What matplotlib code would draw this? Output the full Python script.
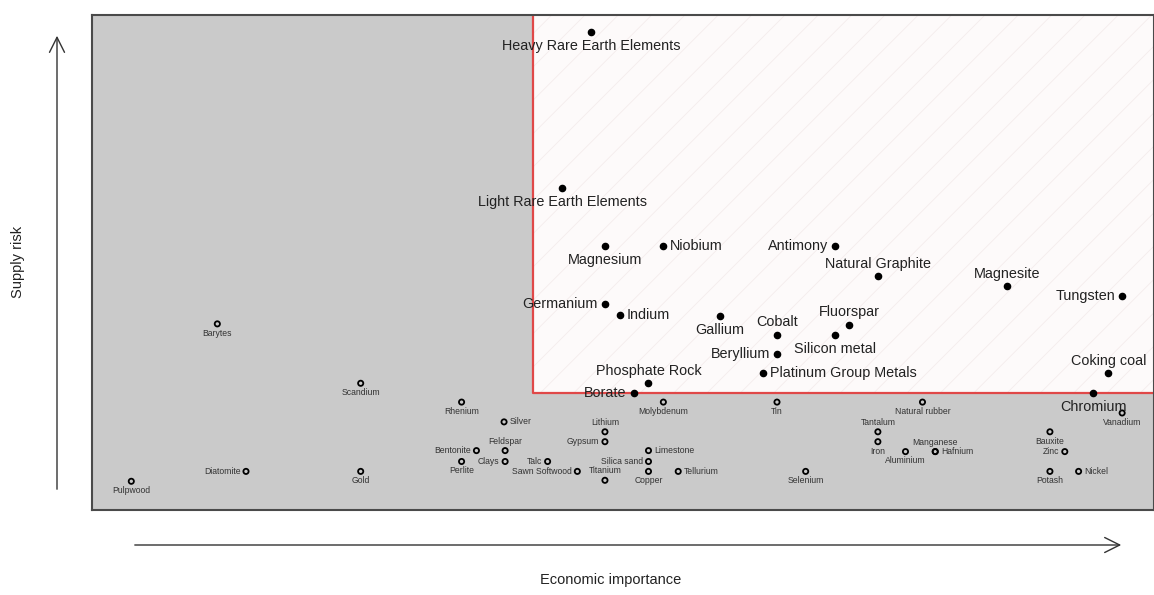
import matplotlib
matplotlib.use("Agg")
import matplotlib.pyplot as plt
from matplotlib.patches import Rectangle

plt.rcParams['font.family'] = ['Liberation Sans', 'DejaVu Sans']
plt.rcParams['hatch.linewidth'] = 0.5

# Critical raw materials (filled markers)
crit_names = ["Heavy Rare Earth Elements", "Light Rare Earth Elements", "Magnesium", "Niobium",
              "Antimony", "Natural Graphite", "Magnesite", "Tungsten", "Germanium", "Indium",
              "Gallium", "Cobalt", "Fluorspar", "Silicon metal", "Beryllium", "Phosphate Rock",
              "Borate", "Platinum Group Metals", "Coking coal", "Chromium"]
crit_ei = [4.70, 4.43, 4.83, 5.38, 7.00, 7.40, 8.62, 9.70, 4.83, 4.97,
           5.91, 6.45, 7.13, 7.00, 6.45, 5.24, 5.10, 6.32, 9.57, 9.43]
crit_sr = [4.83, 3.25, 2.67, 2.67, 2.67, 2.36, 2.26, 2.16, 2.08, 1.97,
           1.96, 1.77, 1.87, 1.77, 1.58, 1.28, 1.18, 1.38, 1.38, 1.18]
crit_pos = ["below", "below", "below", "right", "left", "above", "above", "left", "left", "right",
            "below", "above", "above", "below", "left", "above", "left", "right", "above", "below"]

# Non-critical raw materials (open markers)
non_names = ["Pulpwood", "Diatomite", "Gold", "Barytes", "Scandium", "Rhenium", "Silver", "Feldspar",
             "Clays", "Bentonite", "Perlite", "Talc", "Sawn Softwood", "Lithium", "Gypsum", "Titanium",
             "Silica sand", "Limestone", "Copper", "Tellurium", "Molybdenum", "Tin", "Selenium",
             "Tantalum", "Iron", "Aluminium", "Natural rubber", "Manganese", "Hafnium", "Bauxite",
             "Zinc", "Potash", "Nickel", "Vanadium"]
non_ei = [0.37, 1.45, 2.53, 1.18, 2.53, 3.48, 3.88, 3.89, 3.89, 3.62, 3.48, 4.29, 4.57, 4.83, 4.83, 4.83,
          5.24, 5.24, 5.24, 5.52, 5.38, 6.45, 6.72, 7.40, 7.40, 7.66, 7.82, 7.94, 7.94, 9.02,
          9.16, 9.02, 9.29, 9.70]
non_sr = [0.29, 0.39, 0.39, 1.88, 1.28, 1.09, 0.89, 0.60, 0.49, 0.60, 0.49, 0.49, 0.39, 0.79, 0.69, 0.30,
          0.49, 0.60, 0.39, 0.39, 1.09, 1.09, 0.39, 0.79, 0.69, 0.59, 1.09, 0.59, 0.59, 0.79,
          0.59, 0.39, 0.39, 0.98]
non_pos = ["below", "left", "below", "below", "below", "below", "right", "above", "left", "left",
           "below", "left", "left", "above", "left", "above", "left", "right", "below", "right",
           "below", "below", "below", "above", "below", "below", "below", "above", "right", "below",
           "left", "below", "right", "below"]

ei_threshold = 4.15
sr_threshold = 1.18
xmax, ymax = 10.0, 5.0

W, H = 1154, 595
fig = plt.figure(figsize=(W / 100, H / 100), dpi=100)
ax = fig.add_axes([92 / W, (H - 510) / H, 1062 / W, 495 / H])
ax.set_xlim(0, xmax)
ax.set_ylim(0, ymax)
ax.set_facecolor('#cacaca')
ax.set_xticks([])
ax.set_yticks([])
for s in ax.spines.values():
    s.set_color('#4a4a4a')
    s.set_linewidth(1.5)

# critical zone
ax.add_patch(Rectangle((ei_threshold, sr_threshold), xmax - ei_threshold, ymax - sr_threshold,
                       facecolor='#fdfafa', edgecolor='#f3eaea', hatch='/', linewidth=0, zorder=1))
ax.plot([ei_threshold, ei_threshold, xmax], [ymax, sr_threshold, sr_threshold],
        color='#e04848', lw=1.6, zorder=2, solid_capstyle='butt')

offsets = {"below": (0, -5, 'center', 'top'), "above": (0, 4, 'center', 'bottom'),
           "left": (-5, 0, 'right', 'center'), "right": (5, 0, 'left', 'center')}

ax.scatter(crit_ei, crit_sr, s=20, color='black', zorder=4, clip_on=False)
for n, x, y, p in zip(crit_names, crit_ei, crit_sr, crit_pos):
    dx, dy, ha, va = offsets[p]
    ax.annotate(n, (x, y), xytext=(dx, dy), textcoords='offset points', ha=ha, va=va,
                fontsize=10.4, color='#222222', zorder=5)

ax.scatter(non_ei, non_sr, s=14, facecolor='none', edgecolor='black', linewidth=1.3, zorder=4)
offsets_s = {"below": (0, -3.5, 'center', 'top'), "above": (0, 3.5, 'center', 'bottom'),
             "left": (-4, 0, 'right', 'center'), "right": (4, 0, 'left', 'center')}
for n, x, y, p in zip(non_names, non_ei, non_sr, non_pos):
    dx, dy, ha, va = offsets_s[p]
    ax.annotate(n, (x, y), xytext=(dx, dy), textcoords='offset points', ha=ha, va=va,
                fontsize=6.2, color='#333333', zorder=5)

# axis arrows
arrow = dict(arrowstyle='->,head_length=0.9,head_width=0.45', lw=1.0, color='#333333')
fig.add_artist(matplotlib.patches.FancyArrowPatch((57 / W, 1 - 492 / H), (57 / W, 1 - 33 / H),
               transform=fig.transFigure, **arrow, mutation_scale=12))
fig.add_artist(matplotlib.patches.FancyArrowPatch((132 / W, 1 - 545 / H), (1124 / W, 1 - 545 / H),
               transform=fig.transFigure, **arrow, mutation_scale=12))
fig.text(18 / W, 1 - 262 / H, "Supply risk", rotation=90, ha='center', va='center',
         fontsize=10.5, color='#222222')
fig.text(611 / W, 1 - 580 / H, "Economic importance", ha='center', va='center',
         fontsize=10.5, color='#222222')

fig.savefig('out.png', dpi=100, facecolor='white')
